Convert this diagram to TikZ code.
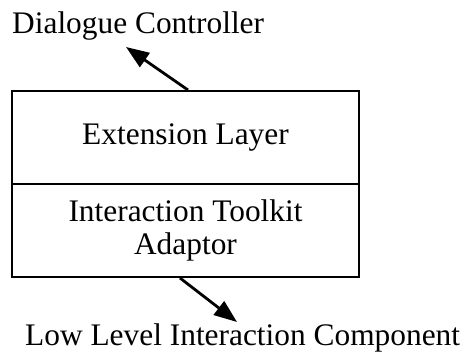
\documentclass[tikz,border=0pt]{standalone}
\usepackage{fontspec}
\setmainfont{Liberation Serif}
\usetikzlibrary{arrows.meta}

\tikzset{
    layer/.style={draw, line width=2bp, minimum width=347bp, minimum height=93bp,
        align=center, inner sep=0pt},
    label/.style={anchor=base west, inner sep=0pt},
    flow/.style={line width=2.8bp, -{Triangle[length=23bp, width=17bp]}}
}

\begin{document}
\begin{tikzpicture}[x=1bp, y=1bp, font=\fontsize{31.5}{34}\selectfont]
    \useasboundingbox (0,0) rectangle (468,354);

    % Layers
    \node[layer] (ext) at (185.5,216.5) {Extension Layer};
    \node[layer] (adapt) at (185.5,123.5) {Interaction Toolkit\\Adaptor};

    % Outer components
    \node[label] (dialogue) at (12,321) {Dialogue Controller};
    \node[label] (lowlevel) at (25,9) {Low Level Interaction Component};

    % Arrow ends
    \coordinate (dialogueIn) at (126,307);
    \coordinate (lowlevelIn) at (237,32);

    \draw[flow] ([xshift=2.5bp]ext.north) -- (dialogueIn);
    \draw[flow] ([xshift=-5.5bp]adapt.south) -- (lowlevelIn);
\end{tikzpicture}
\end{document}
